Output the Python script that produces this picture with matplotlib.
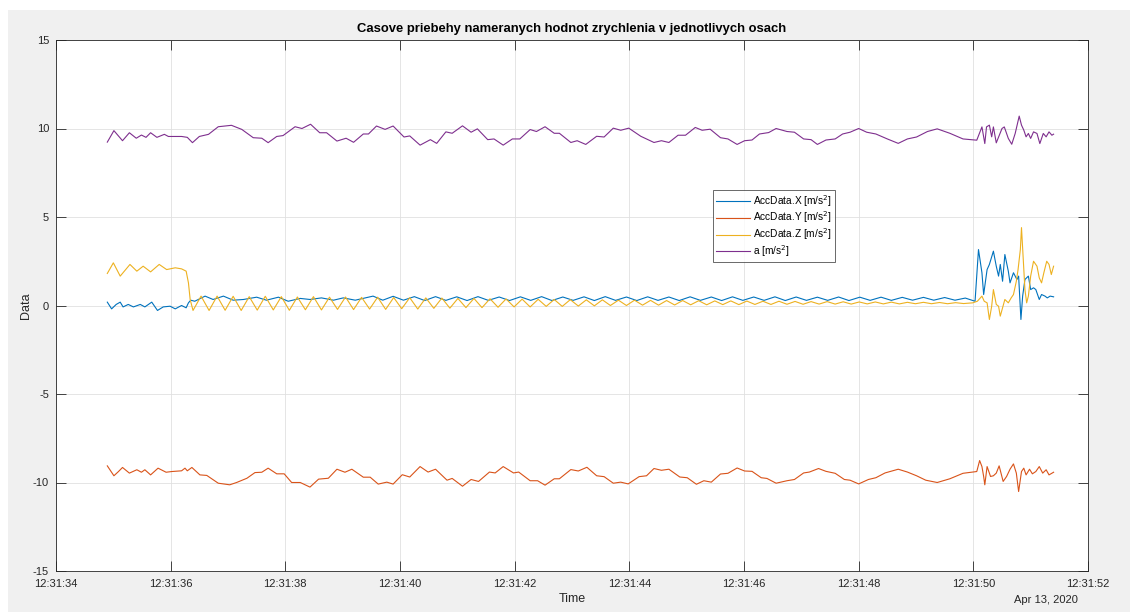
import matplotlib
matplotlib.use('Agg')
import matplotlib.pyplot as plt
import matplotlib.dates as mdates
from matplotlib.patches import Rectangle
import datetime as dt

plt.rcParams['font.family'] = ['Liberation Sans', 'DejaVu Sans']
plt.rcParams['axes.unicode_minus'] = False

# ---- data (seconds after 12:31:34, values in m/s^2) ----
a_t = [0.895, 1.01, 1.16, 1.28, 1.40, 1.49, 1.57, 1.65, 1.76, 1.89, 1.96, 2.19, 2.29, 2.38, 2.50, 2.66, 2.83, 3.06,
       3.24, 3.44, 3.59, 3.70, 3.85, 3.96, 4.17, 4.29, 4.44, 4.60, 4.72, 4.90, 5.06, 5.19, 5.36, 5.45, 5.59, 5.74,
       5.88, 6.07, 6.17, 6.35, 6.53, 6.64, 6.80, 6.91, 7.09, 7.24, 7.35, 7.53, 7.64, 7.80, 7.96, 8.09, 8.27, 8.38,
       8.53, 8.69, 8.78, 8.98, 9.09, 9.24, 9.43, 9.56, 9.72, 9.85, 9.99, 10.20, 10.43, 10.56, 10.69, 10.85, 10.98,
       11.15, 11.27, 11.41, 11.59, 11.72, 11.88, 12.01, 12.14, 12.27, 12.43, 12.56, 12.75, 12.88, 13.04, 13.17,
       13.28, 13.43, 13.59, 13.72, 13.85, 14.00, 14.14, 14.30, 14.50, 14.69, 14.85, 15.01, 15.20, 15.37, 15.59,
       15.82, 16.06, 16.15, 16.20, 16.23, 16.28, 16.32, 16.35, 16.40, 16.50, 16.54, 16.61, 16.67, 16.73, 16.80,
       16.84, 16.88, 16.92, 16.96, 17.00, 17.05, 17.11, 17.16, 17.22, 17.27, 17.32, 17.37, 17.40]
a_v = [9.23, 9.88, 9.31, 9.76, 9.45, 9.63, 9.50, 9.76, 9.50, 9.67, 9.55, 9.55, 9.50, 9.20, 9.55, 9.67, 10.10, 10.18,
       9.95, 9.48, 9.45, 9.20, 9.55, 9.60, 10.10, 10.00, 10.24, 9.76, 9.76, 9.29, 9.45, 9.22, 9.69, 9.69, 10.14, 9.95,
       10.14, 9.52, 9.58, 9.06, 9.37, 9.16, 9.81, 9.73, 10.15, 9.79, 9.98, 9.37, 9.41, 9.06, 9.41, 9.41, 9.94, 9.83,
       10.10, 9.73, 9.73, 9.21, 9.31, 9.10, 9.56, 9.52, 10.02, 9.90, 10.02, 9.56, 9.21, 9.31, 9.21, 9.62, 9.62,
       10.06, 9.90, 9.96, 9.48, 9.41, 9.10, 9.31, 9.35, 9.69, 9.77, 10.00, 9.83, 9.79, 9.41, 9.37,
       9.10, 9.35, 9.41, 9.69, 9.79, 10.00, 9.79, 9.69, 9.41, 9.16, 9.41, 9.52, 9.83, 9.98, 9.73,
       9.41, 9.34, 10.09, 9.15, 10.09, 10.19, 9.53, 10.09, 9.19, 10.00, 10.09, 9.44, 9.11, 9.72, 10.70,
       10.19, 9.91, 9.53, 9.72, 9.44, 9.81, 9.72, 9.15, 9.72, 9.53, 9.81, 9.62, 9.68]

y_t = [0.895, 1.01, 1.09, 1.16, 1.28, 1.41, 1.49, 1.55, 1.65, 1.78, 1.92, 2.02, 2.19, 2.25, 2.29, 2.37, 2.51, 2.63,
       2.83, 3.03, 3.15, 3.33, 3.47, 3.59, 3.70, 3.85, 3.98, 4.11, 4.26, 4.43, 4.58, 4.75, 4.90, 5.04, 5.16, 5.36,
       5.48, 5.62, 5.77, 5.88, 6.04, 6.17, 6.35, 6.49, 6.62, 6.82, 6.91, 7.09, 7.24, 7.37, 7.56, 7.66, 7.80, 7.98,
       8.07, 8.27, 8.40, 8.53, 8.69, 8.78, 8.98, 9.11, 9.26, 9.43, 9.56, 9.72, 9.85, 9.98, 10.17, 10.30, 10.43,
       10.56, 10.69, 10.88, 11.01, 11.17, 11.30, 11.43, 11.59, 11.72, 11.88, 12.01, 12.14, 12.30, 12.40, 12.56,
       12.75, 12.88, 13.04, 13.14, 13.30, 13.43, 13.59, 13.75, 13.85, 14.00, 14.17, 14.30, 14.46, 14.69, 14.85,
       15.01, 15.17, 15.37, 15.59, 15.82, 16.06, 16.11, 16.15, 16.18, 16.20, 16.24, 16.30, 16.35, 16.40, 16.45,
       16.52, 16.58, 16.64, 16.70, 16.75, 16.79, 16.84, 16.88, 16.92, 16.98, 17.03, 17.09, 17.15, 17.21, 17.27,
       17.32, 17.40]
y_v = [-9.06, -9.62, -9.38, -9.15, -9.47, -9.28, -9.42, -9.28, -9.57, -9.19, -9.42, -9.38, -9.34, -9.19, -9.34,
       -9.15, -9.57, -9.60, -10.04, -10.13, -10.00, -9.76, -9.44, -9.42, -9.19, -9.51, -9.51, -10.00, -10.00,
       -10.26, -9.81, -9.76, -9.25, -9.42, -9.25, -9.70, -9.70, -10.09, -9.98, -10.09, -9.56, -9.69, -9.10, -9.41,
       -9.25, -9.87, -9.77, -10.21, -9.83, -9.94, -9.41, -9.46, -9.10, -9.46, -9.41, -9.90, -9.90, -10.15, -9.79,
       -9.79, -9.27, -9.35, -9.14, -9.62, -9.67, -10.04, -9.98, -10.08, -9.67, -9.62, -9.21, -9.31, -9.25, -9.69,
       -9.73, -10.10, -9.90, -9.98, -9.52, -9.48, -9.18, -9.35, -9.37, -9.73, -9.77, -10.04, -9.90, -9.83, -9.46,
       -9.41, -9.21, -9.37, -9.48, -9.83, -9.87, -10.08, -9.83, -9.73, -9.46, -9.25, -9.41, -9.62, -9.87, -10.00,
       -9.79, -9.48, -9.38, -8.76, -9.10, -9.66, -10.13, -9.10, -9.66, -9.62, -9.47, -9.06, -9.94, -9.66, -9.25,
       -8.95, -9.47, -10.51, -9.38, -9.19, -9.57, -9.25, -9.51, -9.38, -9.10, -9.47, -9.28, -9.57, -9.42]

x_t = [0.895, 0.97, 1.05, 1.12, 1.17, 1.26, 1.35, 1.47, 1.55, 1.67, 1.77, 1.87, 1.99, 2.08, 2.19, 2.27, 2.31, 2.35,
       2.42, 2.60, 2.74, 2.92, 3.09, 3.27, 3.50, 3.67, 3.88, 4.05, 4.26, 4.43, 4.63, 4.84, 5.01, 5.22, 5.53, 5.70,
       5.88, 6.06, 6.25, 6.43, 6.62, 6.80, 6.99, 7.17, 7.36, 7.54, 7.73, 7.91, 8.10, 8.28, 8.47, 8.65, 8.84, 9.02,
       9.21, 9.39, 9.58, 9.76, 9.95, 10.13, 10.32, 10.50, 10.69, 10.87, 11.06, 11.24, 11.43, 11.61, 11.80, 11.98,
       12.17, 12.35, 12.54, 12.72, 12.91, 13.09, 13.28, 13.46, 13.65, 13.83, 14.02, 14.20, 14.39, 14.57, 14.76,
       14.94, 15.13, 15.31, 15.50, 15.68, 15.86, 16.03, 16.09, 16.15, 16.18, 16.24, 16.28, 16.35, 16.40, 16.44,
       16.47, 16.51, 16.55, 16.61, 16.64, 16.70, 16.76, 16.79, 16.83, 16.86, 16.90, 16.96, 17.00, 17.05, 17.09,
       17.15, 17.19, 17.25, 17.29, 17.34, 17.40]
x_v = [0.19, -0.19, 0.06, 0.19, -0.08, 0.06, -0.08, 0.06, -0.08, 0.19, -0.28, -0.08, -0.04, -0.19, 0.00, -0.13,
       0.15, 0.30, 0.24, 0.53, 0.34, 0.53, 0.30, 0.34, 0.47, 0.30, 0.47, 0.24, 0.40, 0.34, 0.43, 0.30, 0.43, 0.30,
       0.53, 0.30, 0.52, 0.30, 0.50, 0.28, 0.50, 0.29, 0.49, 0.28, 0.50, 0.29, 0.48, 0.28, 0.49, 0.29, 0.50, 0.28,
       0.48, 0.29, 0.49, 0.28, 0.50, 0.29, 0.48, 0.28, 0.49, 0.29, 0.48, 0.28, 0.49, 0.29, 0.48, 0.28, 0.49, 0.29,
       0.48, 0.29, 0.49, 0.28, 0.48, 0.29, 0.47, 0.29, 0.48, 0.28, 0.47, 0.29, 0.47, 0.29, 0.46,
       0.30, 0.46, 0.30, 0.45, 0.30, 0.42, 0.24, 3.16, 1.85, 0.62, 2.03, 2.32, 3.07, 2.22, 1.66,
       2.32, 1.37, 2.88, 1.94, 1.28, 1.85, 1.47, 1.66, -0.79, 0.53, 1.47, 1.66, 0.90, 1.00, 0.90,
       0.34, 0.62, 0.53, 0.43, 0.53, 0.49]

z_t = [0.895, 1.00, 1.12, 1.29, 1.41, 1.52, 1.65, 1.80, 1.93, 2.08, 2.19, 2.27, 2.31, 2.34, 2.39, 2.53, 2.67, 2.81,
       2.95, 3.09, 3.23, 3.37, 3.51, 3.65, 3.79, 3.93, 4.07, 4.21, 4.35, 4.49, 4.63, 4.77, 4.91, 5.05, 5.19, 5.33,
       5.47, 5.61, 5.75, 5.89, 6.03, 6.17, 6.31, 6.45, 6.59, 6.73, 6.87, 7.01, 7.15, 7.29, 7.43, 7.57, 7.71, 7.85,
       7.99, 8.13, 8.27, 8.41, 8.55, 8.69, 8.83, 8.97, 9.11, 9.25, 9.39, 9.53, 9.67, 9.81, 9.95, 10.09, 10.23,
       10.37, 10.51, 10.65, 10.79, 10.93, 11.07, 11.21, 11.35, 11.49, 11.63, 11.77, 11.91, 12.05, 12.19, 12.33,
       12.47, 12.61, 12.75, 12.89, 13.03, 13.17, 13.31, 13.45, 13.59, 13.73, 13.87, 14.01, 14.15, 14.29, 14.43,
       14.57, 14.71, 14.85, 14.99, 15.13, 15.27, 15.41, 15.55, 15.69, 15.83, 15.99, 16.07, 16.15, 16.19, 16.24,
       16.28, 16.32, 16.35, 16.40, 16.44, 16.47, 16.51, 16.55, 16.61, 16.66, 16.70, 16.75, 16.78, 16.82, 16.84,
       16.87, 16.90, 16.93, 16.96, 17.00, 17.05, 17.11, 17.15, 17.19, 17.23, 17.28, 17.32, 17.36, 17.40]
z_v = [1.81, 2.41, 1.66, 2.32, 1.94, 2.22, 1.90, 2.32, 2.03, 2.13, 2.07, 1.94, 1.28, 0.34, -0.28, 0.53, -0.28, 0.53,
       -0.27, 0.52, -0.28, 0.50, -0.26, 0.52, -0.25, 0.50, -0.27, 0.48, -0.24, 0.50, -0.25, 0.47, -0.22, 0.48,
       -0.23, 0.46, -0.20, 0.47, -0.22, 0.45, -0.18, 0.44, -0.20, 0.43, -0.16, 0.42, -0.15, 0.40, -0.12, 0.40,
       -0.12, 0.38, -0.10, 0.37, -0.08, 0.36, -0.08, 0.35, -0.05, 0.34, -0.05, 0.33, -0.03, 0.32, -0.02, 0.32,
       0.00, 0.30, 0.00, 0.30, 0.02, 0.29, 0.02, 0.28, 0.03, 0.28, 0.04, 0.27, 0.04, 0.26, 0.05, 0.26, 0.05, 0.25,
       0.06, 0.24, 0.06, 0.24, 0.07, 0.23, 0.07, 0.22, 0.08, 0.22, 0.08, 0.21, 0.08, 0.20, 0.09, 0.20, 0.09, 0.19,
       0.09, 0.18, 0.10, 0.18, 0.10, 0.17, 0.10, 0.16, 0.11, 0.15, 0.24, 0.53, 0.24, 0.15, -0.79,
       -0.04, 0.90, 0.06, -0.04, -0.60, -0.13, 0.34, 0.15, 0.43, 0.62, 1.37, 2.03, 3.16, 4.40, 2.60,
       0.90, 0.15, 0.53, 1.66, 2.50, 2.22, 1.56, 1.28, 1.85, 2.50, 2.32, 1.75, 2.22]

series_labels = ['AccData.X [m/s$^2$]', 'AccData.Y [m/s$^2$]', 'AccData.Z [m/s$^2$]', 'a [m/s$^2$]']
series_colors = ['#0072BD', '#D95319', '#EDB120', '#7E2F8E']
y_ticks = [-15, -10, -5, 0, 5, 10, 15]
title = 'Casove priebehy nameranych hodnot zrychlenia v jednotlivych osach'

base = dt.datetime(2020, 4, 13, 12, 31, 34)


def to_dt(ts):
    return [base + dt.timedelta(seconds=s) for s in ts]


W, H = 1130, 612
fig = plt.figure(figsize=(W / 100, H / 100), dpi=100)
fig.patch.set_facecolor('white')
fig.add_artist(Rectangle((8 / W, 0), 1 - 8 / W, (H - 10) / H, transform=fig.transFigure,
                         facecolor='#f0f0f0', edgecolor='none', zorder=-10))

ax = fig.add_axes([56 / W, (H - 571) / H, 1032 / W, 531 / H])
ax.set_facecolor('white')

for (tt, vv), lab, col in zip([(x_t, x_v), (y_t, y_v), (z_t, z_v), (a_t, a_v)], series_labels, series_colors):
    ax.plot(to_dt(tt), vv, color=col, lw=0.8, label=lab)

ax.set_xlim(base, base + dt.timedelta(seconds=18))
ax.set_ylim(-15, 15)
ax.set_yticks(y_ticks)
ax.xaxis.set_major_locator(mdates.SecondLocator(bysecond=range(0, 60, 2)))
ax.xaxis.set_major_formatter(mdates.DateFormatter('%H:%M:%S'))

ax.grid(True, color='#e0e0e0', lw=0.6)
ax.set_axisbelow(True)
for s in ax.spines.values():
    s.set_color('#262626')
    s.set_linewidth(0.6)
ax.tick_params(direction='in', length=7, width=0.6, color='#262626', labelcolor='#262626',
               labelsize=8, top=True, right=True)
ax.tick_params(axis='x', pad=6)
ax.tick_params(axis='y', pad=5)

ax.set_title(title, fontsize=9.4, fontweight='bold', color='black', pad=6)
ax.set_ylabel('Data', fontsize=9, color='#262626', labelpad=0.5)
ax.set_xlabel('Time', fontsize=9, color='#262626', labelpad=3)
fig.text(1046 / W, 1 - 600 / H, 'Apr 13, 2020', fontsize=8, color='#262626', ha='center', va='center')

leg = ax.legend(loc='upper left', bbox_to_anchor=((712.7 - 56) / 1032, (571 - 190) / 531), borderaxespad=0,
                prop={'size': 7.3}, frameon=True, fancybox=False, edgecolor='#262626', handlelength=3.4,
                handletextpad=0.3, labelspacing=0.08, borderpad=0.3)
leg.get_frame().set_linewidth(0.6)

fig.savefig('out.png', dpi=100, facecolor=fig.get_facecolor())
